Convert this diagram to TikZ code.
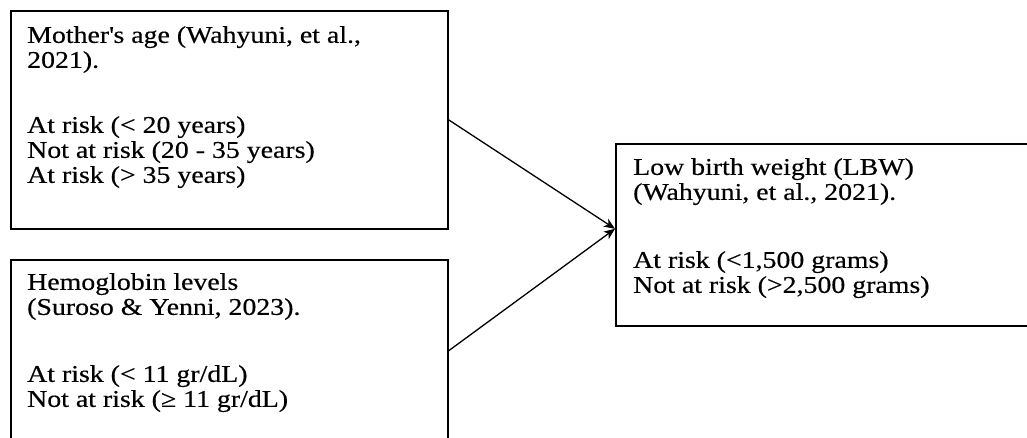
\documentclass[tikz,border=0pt]{standalone}
\usepackage{fontspec}
\setmainfont{Liberation Serif}[FakeStretch=1.16, FakeBold=0.4]
\usepackage{tikz}
\usetikzlibrary{arrows, arrows.meta, positioning}
\tikzset{>={Stealth[length=11pt, width=9pt, inset=3pt]}}

\begin{document}
\begin{tikzpicture}[x=1pt, y=1pt,
  frame/.style={draw, line width=1.6pt, inner sep=0pt, anchor=north west},
  words/.style={inner sep=0pt, align=left, font=\fontsize{24}{25}\selectfont}]
\clip (0,0) rectangle (1027,-438);

\node[frame, minimum width=437pt, minimum height=218pt] (age) at (10,-10) {};
\node[frame, minimum width=437pt, minimum height=182pt] (hb) at (10,-259) {};
\node[frame, minimum width=420pt, minimum height=182pt] (lbw) at (615,-143) {};

\node[words, below right=16pt and 17pt of age.north west] (agetext)
  {Mother\textquotesingle s age (Wahyuni, et al.,\\ 2021).\\[40pt]
   At risk (< 20 years)\\ Not at risk (20 - 35 years)\\ At risk (> 35 years)};
\node[words, below right=14pt and 17pt of hb.north west] (hbtext)
  {Hemoglobin levels\\ (Suroso \& Yenni, 2023).\\[42pt]
   At risk (< 11 gr/dL)\\ Not at risk (≥ 11 gr/dL)};
\node[words, below right=15pt and 18pt of lbw.north west] (lbwtext)
  {Low birth weight (LBW)\\ (Wahyuni, et al., 2021).\\[43pt]
   At risk (<1,500 grams)\\ Not at risk (>2,500 grams)};

\draw[->, line width=1.3pt] (age.east) -- ([yshift=6pt]lbw.west);
\draw[->, line width=1.3pt] (hb.east) -- ([yshift=6pt]lbw.west);

\end{tikzpicture}
\end{document}
